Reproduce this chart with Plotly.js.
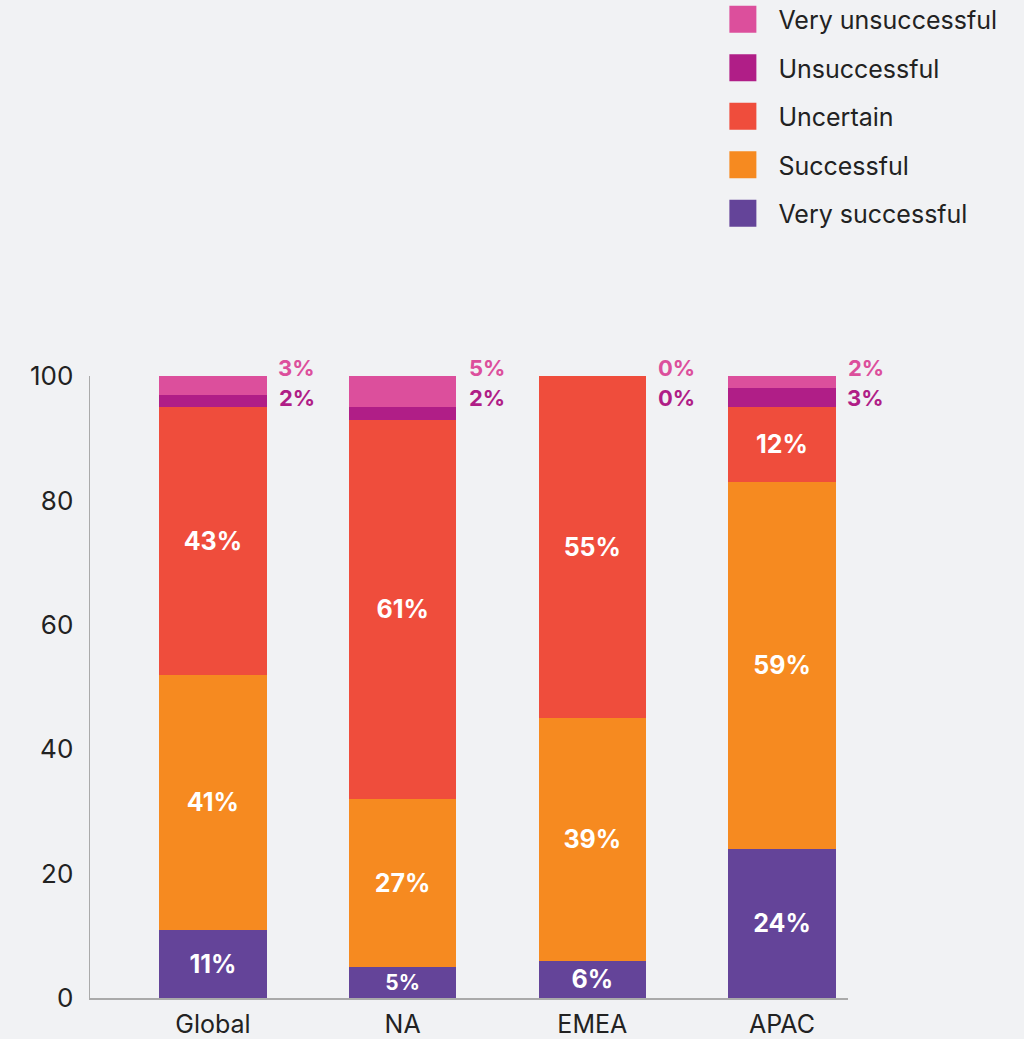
<!DOCTYPE html>
<html>
<head>
<meta charset="utf-8">
<script src="https://cdn.plot.ly/plotly-3.0.1.min.js"></script>
<style>
html,body{margin:0;padding:0;background:#f1f2f4;}
#chart{width:1024px;height:1039px;}
</style>
</head>
<body>
<div id="chart"></div>
<script>
const regions = ["Global", "NA", "EMEA", "APAC"];
const verySuccessful = [11, 5, 6, 24];
const successful = [41, 27, 39, 59];
const uncertain = [43, 61, 55, 12];
const unsuccessful = [2, 2, 0, 3];
const veryUnsuccessful = [3, 5, 0, 2];

const seriesNames = ["Very successful", "Successful", "Uncertain", "Unsuccessful", "Very unsuccessful"];
const seriesColors = ["#644499", "#f68a20", "#ef4d3c", "#b01e87", "#dc4f9c"];
const seriesValues = [verySuccessful, successful, uncertain, unsuccessful, veryUnsuccessful];
const insideLabelled = [true, true, true, false, false];

const FONT = "Inter, 'Open Sans', sans-serif";

const traces = seriesValues.map((vals, i) => ({
  type: "bar",
  name: seriesNames[i],
  x: regions,
  y: vals,
  width: 0.565,
  marker: {color: seriesColors[i], line: {width: 0}},
  text: insideLabelled[i] ? vals.map(v => v + "%") : vals.map(() => ""),
  textposition: insideLabelled[i] ? "inside" : "none",
  insidetextanchor: "middle",
  textangle: 0,
  textfont: {family: FONT, size: 25, color: "#ffffff", weight: 700},
  legendgroup: "g" + i,
  legendrank: (seriesNames.length - i) * 10,
  hoverinfo: "skip"
}));

const annotations = [];
regions.forEach((r, j) => {
  annotations.push({
    x: r, y: 1.037, xref: "x", yref: "paper", xshift: 84,
    text: veryUnsuccessful[j] + "%", showarrow: false,
    font: {family: FONT, size: 22, color: seriesColors[4], weight: 700}
  });
  annotations.push({
    x: r, y: 0.989, xref: "x", yref: "paper", xshift: 84,
    text: unsuccessful[j] + "%", showarrow: false,
    font: {family: FONT, size: 22, color: seriesColors[3], weight: 700}
  });
});

const layout = {
  width: 1024, height: 1039,
  paper_bgcolor: "#f1f2f4", plot_bgcolor: "#f1f2f4",
  margin: {l: 90, r: 176, t: 376, b: 41, pad: 0, autoexpand: false},
  barmode: "stack",
  bargap: 0.4,
  showlegend: true,
  legend: {
    x: 0.829, xanchor: "left", y: 1.61, yanchor: "top",
    traceorder: "grouped",
    tracegroupgap: 13,
    itemwidth: 50,
    font: {family: FONT, size: 25, color: "#222222"},
    bgcolor: "rgba(0,0,0,0)"
  },
  xaxis: {
    type: "category",
    range: [-0.648, 3.348],
    showline: true, linecolor: "#aaaaaa", linewidth: 1.5,
    showgrid: false, zeroline: false,
    ticks: "", ticklabelstandoff: 3,
    tickfont: {family: FONT, size: 25, color: "#222222"},
    fixedrange: true
  },
  yaxis: {
    range: [0, 100],
    tickvals: [0, 20, 40, 60, 80, 100],
    showline: true, linecolor: "#aaaaaa", linewidth: 1.5,
    showgrid: false, zeroline: false,
    ticks: "", ticklabelstandoff: 10,
    tickfont: {family: FONT, size: 26, color: "#222222"},
    fixedrange: true
  },
  annotations: annotations,
  hovermode: false
};

Plotly.newPlot("chart", traces, layout, {displayModeBar: false, staticPlot: true}).then(gd => {
  // enlarge legend swatches to match reference
  gd.querySelectorAll(".legend .traces").forEach(item => {
    const txt = item.querySelector("text.legendtext");
    const tx = txt ? parseFloat(txt.getAttribute("x")) : 60;
    item.querySelectorAll("g.legendpoints path").forEach(p => {
      p.setAttribute("d", "M13.5,13.5H-13.5V-13.5H13.5Z");
      p.setAttribute("transform", "translate(" + (tx - 22 - 13.5) + ",0)");
    });
  });
});
</script>
</body>
</html>
